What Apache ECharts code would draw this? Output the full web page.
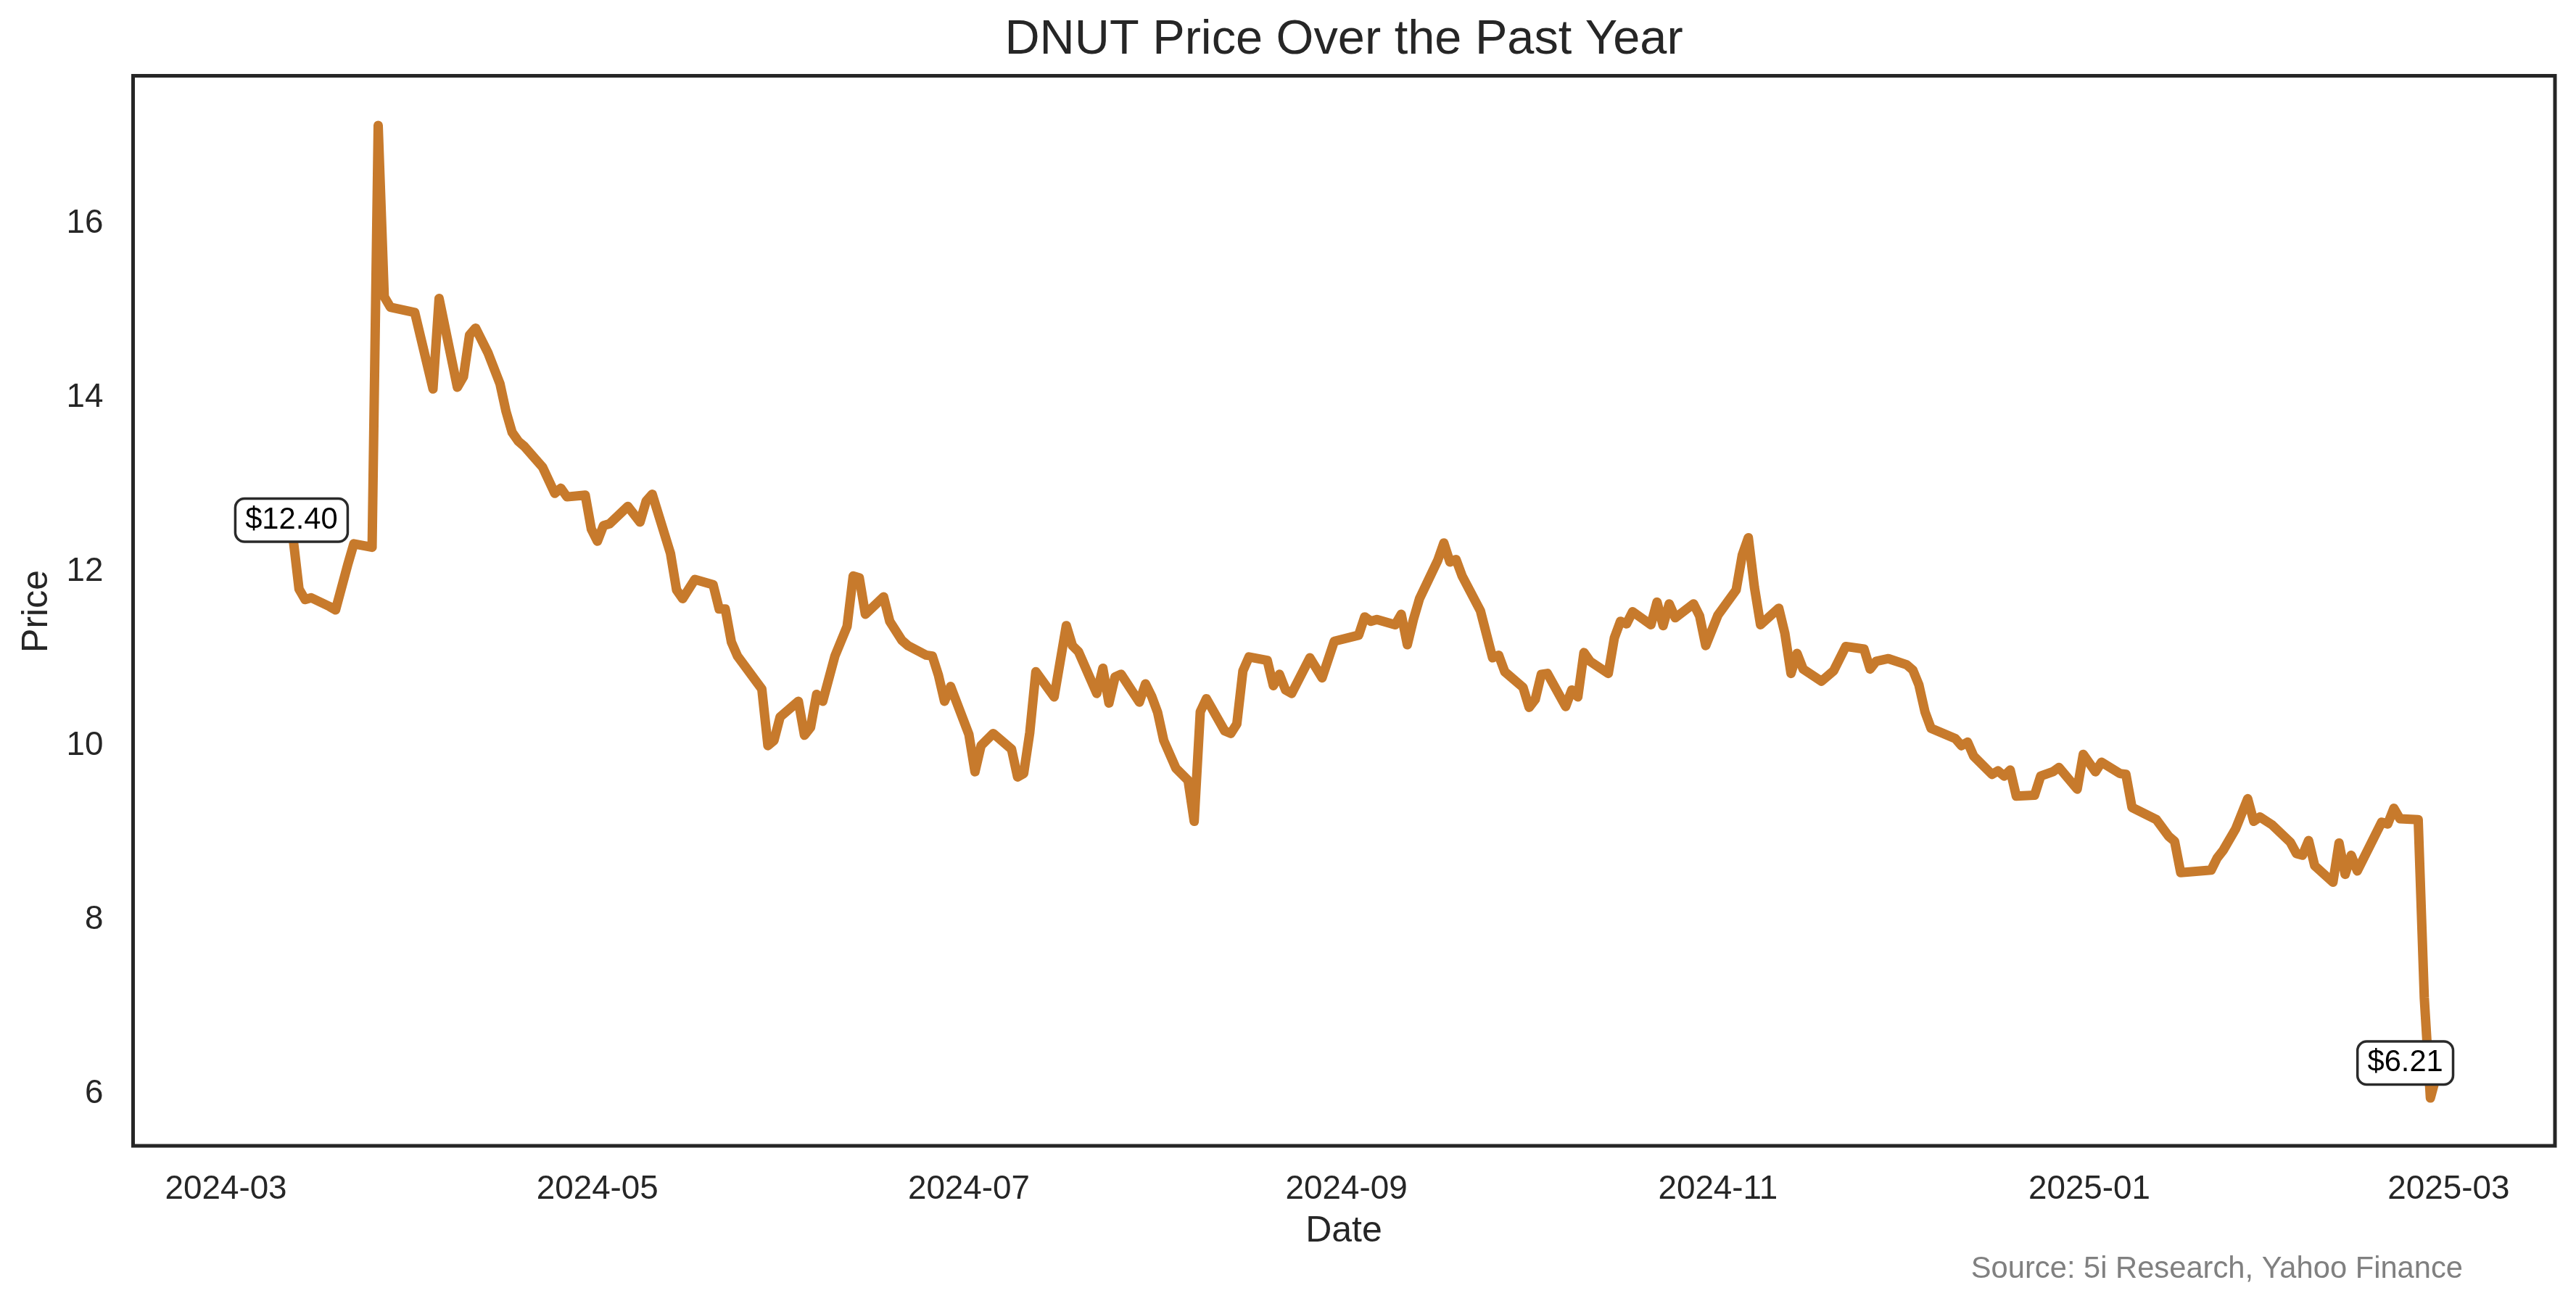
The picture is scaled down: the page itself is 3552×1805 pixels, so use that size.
<!DOCTYPE html>
<html><head><meta charset="utf-8">
<script src="https://cdn.jsdelivr.net/npm/echarts@6/dist/echarts.min.js"></script>
<style>html,body{margin:0;padding:0;background:#fff}#c{width:3552px;height:1805px}</style>
</head><body><div id="c"></div>
<script>
const dates = [
'2024-03-12','2024-03-13','2024-03-14','2024-03-15','2024-03-18','2024-03-19','2024-03-21','2024-03-22','2024-03-25','2024-03-26',
'2024-03-27','2024-03-28','2024-04-01','2024-04-04','2024-04-05','2024-04-08','2024-04-09','2024-04-10','2024-04-11','2024-04-13',
'2024-04-15','2024-04-16','2024-04-17','2024-04-18','2024-04-19','2024-04-22','2024-04-24','2024-04-25','2024-04-26','2024-04-29',
'2024-04-30','2024-05-01','2024-05-02','2024-05-03','2024-05-06','2024-05-08','2024-05-09','2024-05-10','2024-05-13','2024-05-14',
'2024-05-15','2024-05-17','2024-05-20','2024-05-21','2024-05-22','2024-05-23','2024-05-24','2024-05-28','2024-05-29','2024-05-30',
'2024-05-31','2024-06-03','2024-06-04','2024-06-05','2024-06-06','2024-06-07','2024-06-09','2024-06-11','2024-06-12','2024-06-13',
'2024-06-14','2024-06-17','2024-06-18','2024-06-20','2024-06-21','2024-06-24','2024-06-25','2024-06-26','2024-06-27','2024-06-28',
'2024-07-01','2024-07-02','2024-07-03','2024-07-05','2024-07-08','2024-07-09','2024-07-10','2024-07-11','2024-07-12','2024-07-15',
'2024-07-17','2024-07-18','2024-07-19','2024-07-22','2024-07-23','2024-07-24','2024-07-25','2024-07-26','2024-07-29','2024-07-30',
'2024-07-31','2024-08-01','2024-08-02','2024-08-04','2024-08-06','2024-08-07','2024-08-08','2024-08-09','2024-08-12','2024-08-13',
'2024-08-14','2024-08-15','2024-08-16','2024-08-19','2024-08-20','2024-08-21','2024-08-22','2024-08-23','2024-08-26','2024-08-28',
'2024-08-30','2024-09-03','2024-09-04','2024-09-05','2024-09-06','2024-09-09','2024-09-10','2024-09-11','2024-09-12','2024-09-13',
'2024-09-16','2024-09-17','2024-09-18','2024-09-19','2024-09-20','2024-09-23','2024-09-25','2024-09-26','2024-09-27','2024-09-30',
'2024-10-01','2024-10-02','2024-10-03','2024-10-04','2024-10-07','2024-10-08','2024-10-09','2024-10-10','2024-10-11','2024-10-14',
'2024-10-15','2024-10-16','2024-10-17','2024-10-18','2024-10-21','2024-10-22','2024-10-23','2024-10-24','2024-10-25','2024-10-28',
'2024-10-29','2024-10-30','2024-11-01','2024-11-04','2024-11-05','2024-11-06','2024-11-07','2024-11-08','2024-11-11','2024-11-12',
'2024-11-13','2024-11-14','2024-11-15','2024-11-18','2024-11-20','2024-11-22','2024-11-25','2024-11-26','2024-11-27','2024-11-29',
'2024-12-02','2024-12-03','2024-12-04','2024-12-05','2024-12-06','2024-12-10','2024-12-11','2024-12-12','2024-12-13','2024-12-16',
'2024-12-17','2024-12-18','2024-12-19','2024-12-20','2024-12-23','2024-12-24','2024-12-26','2024-12-27','2024-12-30','2024-12-31',
'2025-01-02','2025-01-03','2025-01-06','2025-01-07','2025-01-08','2025-01-12','2025-01-14','2025-01-15','2025-01-16','2025-01-21',
'2025-01-22','2025-01-23','2025-01-25','2025-01-27','2025-01-28','2025-01-29','2025-01-31','2025-02-03','2025-02-04','2025-02-05',
'2025-02-06','2025-02-07','2025-02-10','2025-02-11','2025-02-12','2025-02-13','2025-02-14','2025-02-18','2025-02-19','2025-02-20',
'2025-02-21','2025-02-24','2025-02-25','2025-02-26','2025-02-27'
];
const prices = [
12.40,11.80,11.68,11.70,11.60,11.56,12.08,12.32,12.28,17.13,
15.16,15.04,14.98,14.10,15.14,14.12,14.24,14.72,14.80,14.52,
14.16,13.84,13.60,13.50,13.44,13.20,12.90,12.96,12.86,12.88,
12.49,12.35,12.53,12.55,12.75,12.57,12.81,12.89,12.21,11.79,
11.69,11.91,11.85,11.57,11.57,11.19,11.03,10.65,10.00,10.06,
10.33,10.51,10.12,10.21,10.59,10.51,11.03,11.37,11.95,11.93,
11.51,11.71,11.43,11.21,11.15,11.04,11.03,10.81,10.51,10.68,
10.13,9.70,10.00,10.14,9.96,9.64,9.68,10.15,10.85,10.56,
11.38,11.15,11.08,10.60,10.89,10.49,10.79,10.82,10.50,10.71,
10.57,10.38,10.06,9.74,9.60,9.13,10.39,10.54,10.17,10.14,
10.25,10.86,11.02,10.98,10.69,10.82,10.64,10.60,11.01,10.78,
11.20,11.27,11.48,11.43,11.45,11.39,11.51,11.16,11.45,11.69,
12.13,12.33,12.11,12.14,11.95,11.55,11.01,11.04,10.85,10.67,
10.44,10.53,10.82,10.83,10.45,10.64,10.56,11.07,10.97,10.83,
11.24,11.43,11.40,11.54,11.39,11.65,11.38,11.63,11.47,11.63,
11.49,11.15,11.50,11.79,12.19,12.39,11.82,11.39,11.58,11.29,
10.83,11.06,10.88,10.74,10.86,11.14,11.11,10.88,10.97,11.00,
10.93,10.87,10.70,10.39,10.20,10.08,10.00,10.04,9.88,9.67,
9.71,9.65,9.72,9.42,9.43,9.65,9.70,9.75,9.50,9.90,
9.70,9.81,9.68,9.67,9.29,9.15,8.96,8.90,8.54,8.57,
8.71,8.80,9.04,9.39,9.13,9.18,9.09,8.89,8.76,8.74,
8.91,8.62,8.43,8.88,8.52,8.74,8.56,9.12,9.10,9.28,
9.16,9.15,7.10,5.95,6.21
];
const xTicks = ['2024-03-01','2024-05-01','2024-07-01','2024-09-01','2024-11-01','2025-01-01','2025-03-01'];
const yTicks = [6, 8, 10, 12, 14, 16];
const xRange = ['2024-02-14T18:00', '2025-03-18T11:00'];
const yRange = [5.40, 17.70];
const titleText = 'DNUT Price Over the Past Year';
const xName = 'Date';
const yName = 'Price';
const sourceText = 'Source: 5i Research, Yahoo Finance';

function toTime(s) {
  const m = s.match(/^(\d{4})-(\d{2})-(\d{2})(?:T(\d{2}):(\d{2}))?$/);
  return new Date(+m[1], +m[2] - 1, +m[3], m[4] ? +m[4] : 0, m[5] ? +m[5] : 0).getTime();
}
function pad(n) { return (n < 10 ? '0' : '') + n; }

const seriesData = dates.map((d, i) => [toTime(d), prices[i]]);
const FONT = '"Liberation Sans", Arial, sans-serif';
const INK = '#262626';
const LINE = '#c77a2c';

const labelStyle = {
  show: true,
  position: 'inside',
  color: '#000',
  fontSize: 41.7,
  fontFamily: FONT,
  lineHeight: 42,
  backgroundColor: '#ffffff',
  borderColor: '#2a2a2a',
  borderWidth: 3.5,
  borderRadius: 11,
  padding: [7, 12]
};
const last = dates.length - 1;

const chart = echarts.init(document.getElementById('c'), null, { renderer: 'canvas' });
chart.setOption({
  animation: false,
  backgroundColor: '#ffffff',
  grid: {
    left: 183.5, right: 29, top: 104.5, bottom: 225,
    show: true, borderColor: INK, borderWidth: 5, backgroundColor: 'transparent'
  },
  xAxis: {
    type: 'value',
    min: toTime(xRange[0]),
    max: toTime(xRange[1]),
    axisLine: { show: false },
    axisTick: { show: false },
    splitLine: { show: false },
    axisLabel: {
      customValues: xTicks.map(toTime),
      margin: 37,
      color: INK,
      fontSize: 45.8,
      fontFamily: FONT,
      formatter: function (v) { const d = new Date(v); return d.getFullYear() + '-' + pad(d.getMonth() + 1); }
    }
  },
  yAxis: {
    type: 'value',
    min: yRange[0],
    max: yRange[1],
    axisLine: { show: false },
    axisTick: { show: false },
    splitLine: { show: false },
    axisLabel: {
      customValues: yTicks,
      margin: 41,
      color: INK,
      fontSize: 45.8,
      fontFamily: FONT,
      formatter: function (v) { return String(v); }
    }
  },
  series: [{
    type: 'line',
    data: seriesData,
    showSymbol: false,
    symbol: 'none',
    lineStyle: { color: LINE, width: 13, cap: 'round', join: 'round' },
    itemStyle: { color: LINE },
    z: 3,
    markPoint: {
      symbol: 'circle',
      symbolSize: 0,
      z: 5,
      itemStyle: { color: 'transparent' },
      data: [
        { coord: seriesData[0], label: Object.assign({}, labelStyle, { offset: [-2, -23], formatter: '$' + prices[0].toFixed(2) }) },
        { coord: seriesData[last], label: Object.assign({}, labelStyle, { offset: [-43, -17], formatter: '$' + prices[last].toFixed(2) }) }
      ]
    }
  }],
  graphic: [
    { type: 'text', x: 1853, y: 56, z: 10, style: { text: titleText, fill: INK, font: '66.7px ' + FONT, align: 'center', verticalAlign: 'middle', textAlign: 'center', textVerticalAlign: 'middle' } },
    { type: 'text', x: 1853, y: 1698, z: 10, style: { text: xName, fill: INK, font: '50px ' + FONT, align: 'center', verticalAlign: 'middle', textAlign: 'center', textVerticalAlign: 'middle' } },
    { type: 'text', x: 51, y: 843, rotation: Math.PI / 2, z: 10, style: { text: yName, fill: INK, font: '50px ' + FONT, align: 'center', verticalAlign: 'middle', textAlign: 'center', textVerticalAlign: 'middle' } },
    { type: 'text', x: 3396, y: 1751, z: 10, style: { text: sourceText, fill: '#808080', font: '41.7px ' + FONT, align: 'right', verticalAlign: 'middle', textAlign: 'right', textVerticalAlign: 'middle' } }
  ]
});
</script>
</body></html>
